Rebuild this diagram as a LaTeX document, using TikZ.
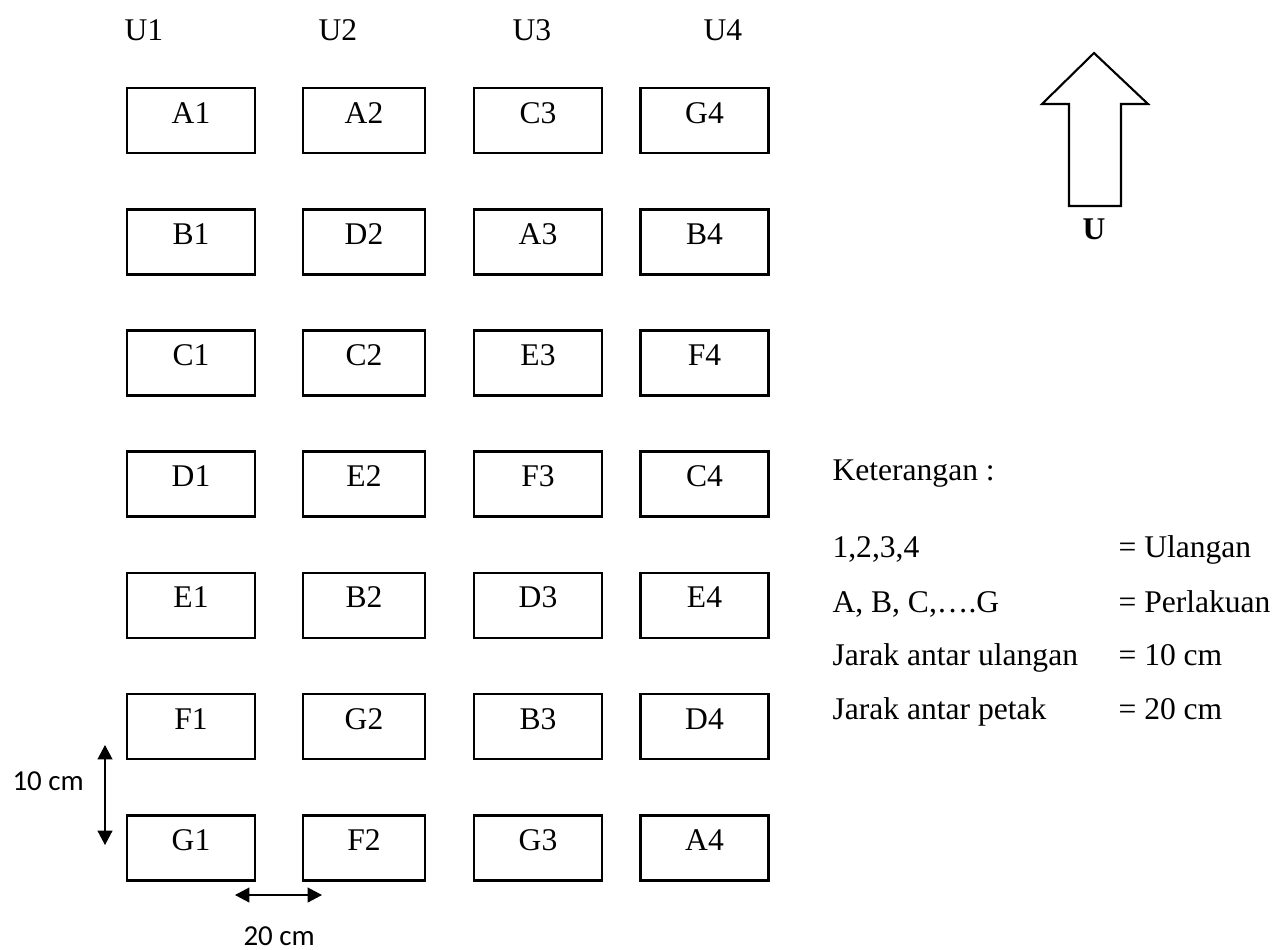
\documentclass[tikz,border=0pt]{standalone}
\usepackage{fontspec}
\setmainfont{Liberation Serif}
\newfontfamily\calibri{Carlito}
\usetikzlibrary{arrows.meta,calc}

\begin{document}
\begin{tikzpicture}[x=0.38pt,y=-0.38pt,
  every node/.style={font=\fontsize{12pt}{14pt}\selectfont, inner sep=0pt},
  plotbox/.style={draw, line width=1pt, rectangle, minimum height=24.7pt,
    text height=13.3pt, text depth=11.4pt},
  colA/.style={plotbox, minimum width=48.6pt},
  colB/.style={plotbox, minimum width=46.4pt},
  txt/.style={anchor=base west},
  dimtext/.style={anchor=base west, font=\calibri\fontsize{11pt}{13pt}\selectfont},
  dimline/.style={line width=0.5pt, {Triangle[length=5.5pt,width=5.7pt]}-{Triangle[length=5.5pt,width=5.7pt]}},
  north/.style={draw, line width=0.8pt, line join=miter}
]
\useasboundingbox (0,0) rectangle (1277,949);

% replicate headers
\node[txt] (u1) at (124,40) {U1};
\node[txt] (u2) at (318,40) {U2};
\node[txt] (u3) at (512,40) {U3};
\node[txt] (u4) at (703,40) {U4};

% plots: one column per replicate
\foreach \r/\y/\a/\b/\c/\d in {
  1/120.5/A1/A2/C3/G4,
  2/241.7/B1/D2/A3/B4,
  3/362.9/C1/C2/E3/F4,
  4/484.1/D1/E2/F3/C4,
  5/605.3/E1/B2/D3/E4,
  6/726.5/F1/G2/B3/D4,
  7/847.7/G1/F2/G3/A4}{
  \node[colA] (\a) at (191,\y) {\a};
  \node[colB] (\b) at (364,\y) {\b};
  \node[colA] (\c) at (538,\y) {\c};
  \node[colA] (\d) at (704.5,\y) {\d};
}

% spacing dimensions
\coordinate (vtop) at (105,745);
\coordinate (vbot) at (105,845);
\draw[dimline] (vtop) -- (vbot);
\node[dimtext] (d10) at (12,790) {10 cm};

\coordinate (hleft) at (235,895);
\coordinate (hright) at (322,895);
\draw[dimline] (hleft) -- (hright);
\node[dimtext] (d20) at (243,945) {20 cm};

% north arrow
\draw[north] (1094,53) -- (1148,104) -- (1121,104) -- (1121,206)
  -- (1069,206) -- (1069,104) -- (1042,104) -- cycle;
\node[anchor=base, font=\bfseries\fontsize{12pt}{14pt}\selectfont] (nlabel) at (1094,239) {U};

% legend
\node[txt] (k0) at (832,480) {Keterangan :};
\node[txt] (k1) at (832,557) {1,2,3,4};
\node[txt] (v1) at (1118,557) {= Ulangan};
\node[txt] (k2) at (832,612) {A, B, C,….G};
\node[txt] (v2) at (1118,612) {= Perlakuan};
\node[txt] (k3) at (832,665) {Jarak antar ulangan};
\node[txt] (v3) at (1118,665) {= 10 cm};
\node[txt] (k4) at (832,719) {Jarak antar petak};
\node[txt] (v4) at (1118,719) {= 20 cm};
\end{tikzpicture}
\end{document}
